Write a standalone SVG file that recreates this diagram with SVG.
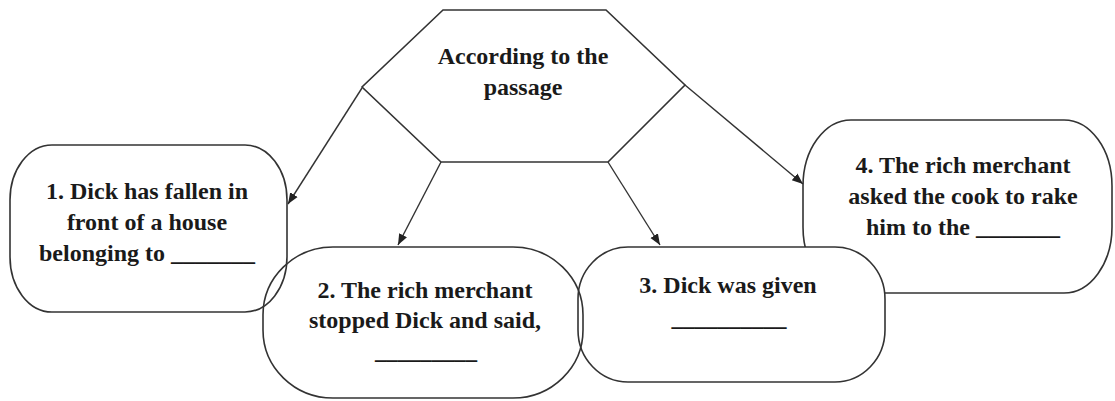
<svg xmlns="http://www.w3.org/2000/svg" width="1115" height="401" viewBox="0 0 1115 401">
<style>
.shape{stroke:#333;stroke-width:1.6;}
.t{font-family:"Liberation Serif","Times New Roman",serif;font-weight:bold;font-size:24px;fill:#1a1a1a;text-anchor:middle;}
.c{stroke:#333;stroke-width:1.4;fill:none;marker-end:url(#ah);}
</style>
<defs>
<marker id="ah" viewBox="0 0 10 10" refX="10" refY="5" markerWidth="11" markerHeight="11" markerUnits="userSpaceOnUse" orient="auto">
<path d="M0,1 L10,5 L0,9 Z" fill="#222"/>
</marker>
</defs>
<rect width="1115" height="401" fill="#fff"/>
<g id="hex">
<polygon class="shape" fill="#fff" points="443,10 606,10 685,85 608,162 441,162 362,87"/>
<text class="t" x="523" y="64">According to the</text>
<text class="t" x="523" y="95">passage</text>
</g>
<g id="box4">
<rect class="shape" fill="#fff" x="803" y="120" width="309" height="173" rx="48" ry="66"/>
<text class="t" x="963" y="173">4. The rich merchant</text>
<text class="t" x="963" y="204">asked the cook to rake</text>
<text class="t" x="963" y="235">him to the _______</text>
</g>
<g id="box3">
<rect class="shape" fill="#fff" x="578" y="247" width="307" height="135" rx="50" ry="52"/>
<text class="t" x="728" y="293">3. Dick was given</text>
<text class="t" x="729" y="326" textLength="115" lengthAdjust="spacingAndGlyphs">__________</text>
</g>
<g id="box2">
<rect class="shape" fill="none" x="263" y="247" width="320" height="151" rx="70" ry="68"/>
<text class="t" x="425" y="298">2. The rich merchant</text>
<text class="t" x="425" y="328">stopped Dick and said,</text>
<text class="t" x="426" y="359" textLength="102" lengthAdjust="spacingAndGlyphs">_________</text>
</g>
<g id="box1">
<rect class="shape" fill="none" x="10" y="145" width="277" height="167" rx="42" ry="55"/>
<text class="t" x="147" y="199">1. Dick has fallen in</text>
<text class="t" x="147" y="230">front of a house</text>
<text class="t" x="147" y="261">belonging to _______</text>
</g>
<g id="connectors">
<line class="c" x1="362" y1="88" x2="288" y2="204"/>
<line class="c" x1="441" y1="162" x2="398" y2="245"/>
<line class="c" x1="608" y1="162" x2="660" y2="245"/>
<line class="c" x1="685" y1="85" x2="803" y2="184"/>
</g>
</svg>
